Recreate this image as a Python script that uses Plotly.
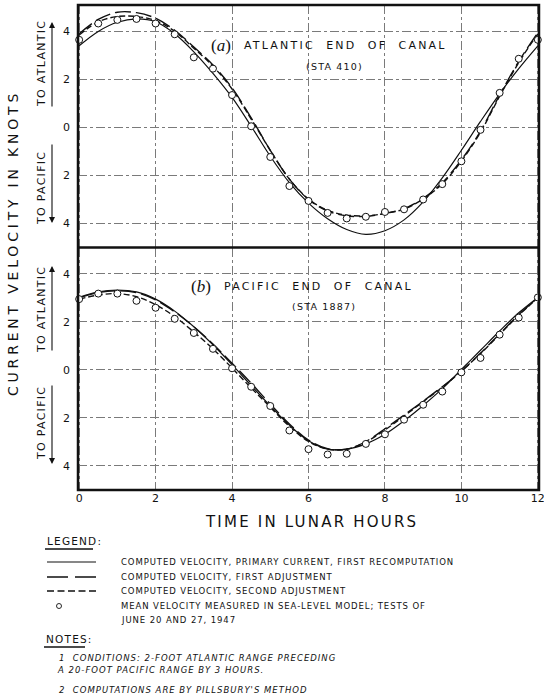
import plotly.graph_objects as go

# ---------------- data ----------------
hours = [0, 0.5, 1, 1.5, 2, 2.5, 3, 3.5, 4, 4.5, 5, 5.5, 6, 6.5, 7, 7.5, 8, 8.5,
         9, 9.5, 10, 10.5, 11, 11.5, 12]

# (a) Atlantic end of canal (STA 410)
atl_measured = [3.65, 4.33, 4.48, 4.52, 4.33, 3.88, 2.92, 2.45, 1.35, 0.05, -1.23, -2.44,
                -3.06, -3.56, -3.79, -3.72, -3.52, -3.41, -3.00, -2.36, -1.41, -0.10,
                1.44, 2.86, 3.65]
atl_primary = [3.40, 4.00, 4.38, 4.52, 4.40, 3.90, 3.15, 2.25, 1.25, 0.05, -1.20, -2.30,
               -3.15, -3.80, -4.25, -4.45, -4.30, -3.85, -3.10, -2.10, -0.95, 0.25,
               1.40, 2.45, 3.40]
atl_first_adj = [3.90, 4.50, 4.80, 4.78, 4.55, 4.05, 3.35, 2.60, 1.65, 0.40, -0.95, -2.15,
                 -3.00, -3.48, -3.68, -3.70, -3.58, -3.38, -2.95, -2.30, -1.35, -0.15,
                 1.35, 2.75, 3.95]
atl_second_adj = [3.85, 4.40, 4.62, 4.62, 4.45, 4.00, 3.30, 2.55, 1.60, 0.35, -0.95, -2.15,
                  -2.98, -3.45, -3.65, -3.68, -3.58, -3.40, -2.98, -2.35, -1.40, -0.20,
                  1.30, 2.70, 3.90]

# (b) Pacific end of canal (STA 1887)
pac_measured = [2.95, 3.18, 3.18, 2.88, 2.59, 2.13, 1.54, 0.88, 0.07, -0.70, -1.50, -2.52,
                -3.30, -3.52, -3.49, -3.08, -2.68, -2.07, -1.45, -0.90, -0.10, 0.50,
                1.47, 2.18, 3.02]
pac_primary = [3.02, 3.25, 3.33, 3.25, 2.95, 2.45, 1.80, 1.05, 0.22, -0.65, -1.50, -2.30,
               -2.95, -3.30, -3.30, -3.08, -2.68, -2.12, -1.48, -0.78, 0.02, 0.82,
               1.62, 2.38, 3.02]
pac_first_adj = [3.00, 3.22, 3.30, 3.22, 2.92, 2.42, 1.80, 1.08, 0.28, -0.55, -1.42, -2.25,
                 -2.92, -3.28, -3.30, -2.98, -2.45, -1.88, -1.30, -0.70, -0.05, 0.70,
                 1.50, 2.30, 3.00]
pac_second_adj = [2.95, 3.12, 3.18, 3.05, 2.72, 2.22, 1.58, 0.88, 0.08, -0.75, -1.55, -2.35,
                  -2.98, -3.30, -3.30, -3.00, -2.50, -1.92, -1.32, -0.72, -0.05, 0.68,
                  1.48, 2.28, 3.00]

x_tickvals = [0, 2, 4, 6, 8, 10, 12]
x_ticktext = ["0", "2", "4", "6", "8", "10", "12"]
y_tickvals = [4, 2, 0, -2, -4]
y_ticktext = ["4", "2", "0", "2", "4"]

legend_labels = [
    "COMPUTED VELOCITY, PRIMARY CURRENT, FIRST RECOMPUTATION",
    "COMPUTED VELOCITY, FIRST ADJUSTMENT",
    "COMPUTED VELOCITY, SECOND ADJUSTMENT",
    "MEAN VELOCITY MEASURED IN SEA-LEVEL MODEL; TESTS OF",
    "JUNE 20 AND 27, 1947",
]
notes = [
    "1  CONDITIONS: 2-FOOT ATLANTIC RANGE PRECEDING",
    "A 20-FOOT PACIFIC RANGE BY 3 HOURS.",
    "2  COMPUTATIONS ARE BY PILLSBURY'S METHOD",
]

# ---------------- geometry helpers ----------------
W, H = 544, 697
L, R, T, B = 78, 5, 5, 207
PW = W - L - R
PH = H - T - B


def px(x):
    return (x - L) / PW


def py(y):
    return (H - B - y) / PH


FONT = "DejaVu Sans"
INK = "#111111"
LONG = "16px,5px"
SHORT = "6px,3px"


def sp(text, ls):
    return f'<span style="letter-spacing:{ls}px">{text}</span>'


fig = go.Figure()

panels = [
    ("x2", "y2", atl_primary, atl_first_adj, atl_second_adj, atl_measured),
    ("x", "y", pac_primary, pac_first_adj, pac_second_adj, pac_measured),
]
for xa, ya, prim, fa, sa, meas in panels:
    fig.add_trace(go.Scatter(x=hours, y=prim, mode="lines", xaxis=xa, yaxis=ya,
                             line=dict(color=INK, width=1.2, shape="spline", smoothing=1.0),
                             showlegend=False))
    fig.add_trace(go.Scatter(x=hours, y=fa, mode="lines", xaxis=xa, yaxis=ya,
                             line=dict(color=INK, width=1.4, dash=LONG, shape="spline", smoothing=1.0),
                             showlegend=False))
    fig.add_trace(go.Scatter(x=hours, y=sa, mode="lines", xaxis=xa, yaxis=ya,
                             line=dict(color=INK, width=1.4, dash=SHORT, shape="spline", smoothing=1.0),
                             showlegend=False))
    fig.add_trace(go.Scatter(x=hours, y=meas, mode="markers", xaxis=xa, yaxis=ya,
                             marker=dict(symbol="circle", size=7, color="white",
                                         line=dict(color=INK, width=1)),
                             showlegend=False, cliponaxis=False))

grid = dict(showgrid=True, gridcolor="#7a7a7a", gridwidth=0.8, griddash="dashdot",
            zeroline=False, showline=False, automargin=False)

fig.update_layout(
    width=W, height=H,
    margin=dict(l=L, r=R, t=T, b=B, autoexpand=False),
    paper_bgcolor="white", plot_bgcolor="white",
    font=dict(family=FONT, color=INK),
    xaxis=dict(domain=[0, 1], range=[-0.03, 12.03], anchor="y",
               tickvals=x_tickvals, ticktext=x_ticktext, tickfont=dict(size=11),
               ticks="", ticklabeloverflow="allow", **grid),
    xaxis2=dict(domain=[0, 1], range=[-0.03, 12.03], anchor="y2", matches="x",
                tickvals=x_tickvals, showticklabels=False, ticks="", **grid),
    yaxis=dict(domain=[0, 0.5], range=[-5.0, 5.1], anchor="x",
               tickvals=y_tickvals, ticktext=y_ticktext, tickfont=dict(size=11),
               ticks="", ticklabelstandoff=7, **grid),
    yaxis2=dict(domain=[0.5, 1], range=[-5.0, 5.1], anchor="x2",
                tickvals=y_tickvals, ticktext=y_ticktext, tickfont=dict(size=11),
                ticks="", ticklabelstandoff=7, **grid),
)

shapes = []
# frame and panel divider
shapes.append(dict(type="rect", xref="paper", yref="paper", x0=0, x1=1, y0=0, y1=1,
                   line=dict(color=INK, width=2.5)))
shapes.append(dict(type="line", xref="paper", yref="paper", x0=0, x1=1, y0=0.5, y1=0.5,
                   line=dict(color=INK, width=2.5)))

# legend keys
shapes.append(dict(type="line", xref="paper", yref="paper", x0=px(47), x1=px(96),
                   y0=py(562), y1=py(562), line=dict(color=INK, width=1.2)))
shapes.append(dict(type="line", xref="paper", yref="paper", x0=px(47), x1=px(96),
                   y0=py(577), y1=py(577), line=dict(color=INK, width=1.4, dash="21px,7px")))
shapes.append(dict(type="line", xref="paper", yref="paper", x0=px(47), x1=px(96),
                   y0=py(591), y1=py(591), line=dict(color=INK, width=1.4, dash="7px,3.5px")))
shapes.append(dict(type="circle", xref="paper", yref="paper", x0=px(56.5), x1=px(61.5),
                   y0=py(608.5), y1=py(603.5), line=dict(color=INK, width=0.9)))
# underlines
shapes.append(dict(type="line", xref="paper", yref="paper", x0=px(45), x1=px(93),
                   y0=py(549), y1=py(549), line=dict(color=INK, width=1.5)))
shapes.append(dict(type="line", xref="paper", yref="paper", x0=px(44), x1=px(85),
                   y0=py(647), y1=py(647), line=dict(color=INK, width=1.5)))

annotations = []


def ann(text, x, y, size, xanchor="center", yanchor="middle", angle=0, family=FONT):
    annotations.append(dict(text=text, xref="paper", yref="paper", x=px(x), y=py(y),
                            xanchor=xanchor, yanchor=yanchor, showarrow=False,
                            textangle=angle, font=dict(size=size, family=family, color=INK)))


def arrow(x, y_tip, y_tail):
    annotations.append(dict(text="", xref="paper", yref="paper", x=px(x), y=py(y_tip),
                            ax=0, ay=y_tail - y_tip, showarrow=True, arrowhead=2,
                            arrowsize=1.1, arrowwidth=1.1, arrowcolor=INK))


# y-axis title and direction labels
ann(sp("CURRENT VELOCITY IN KNOTS", 3.8), 13, 243, 14, angle=-90)
for top, (atl_c, atl_tip, atl_tail, pac_c, pac_tip, pac_tail) in [
        (True, (64, 22, 108, 188, 223, 143)),
        (False, (310, 266, 352, 423, 464, 384))]:
    ann(sp("TO ATLANTIC", 1.3), 41, atl_c, 11, angle=-90)
    arrow(52, atl_tip, atl_tail)
    ann(sp("TO PACIFIC", 1.3), 41, pac_c, 11, angle=-90)
    arrow(52, pac_tip, pac_tail)

# panel titles
ann("(<i>a</i>)", 209, 45, 17, xanchor="left", family="Liberation Serif")
ann(sp("ATLANTIC  END  OF  CANAL", 2.2), 242, 45, 11, xanchor="left")
ann(sp("(STA 410)", 1.2), 334, 66, 9.5)
ann("(<i>b</i>)", 189, 287, 17, xanchor="left", family="Liberation Serif")
ann(sp("PACIFIC  END  OF  CANAL", 2.2), 222, 287, 11, xanchor="left")
ann(sp("(STA 1887)", 1.2), 324, 306, 9.5)

# x-axis title
ann(sp("TIME IN LUNAR HOURS", 2.2), 311, 522, 15)

# legend block
ann(sp("LEGEND:", 1.2), 45, 541, 10.5, xanchor="left")
for label, yy in zip(legend_labels, [562, 577, 591, 606, 620]):
    ann(sp(label, 0.9), 119, yy, 8.5, xanchor="left")

# notes block
ann(sp("NOTES:", 1.2), 44, 639, 10.5, xanchor="left")
for note, xx, yy in zip(notes, [57, 55, 57], [658, 670, 690]):
    ann("<i>" + sp(note, 1.0) + "</i>", xx, yy, 8.5, xanchor="left")

fig.update_layout(shapes=shapes, annotations=annotations)

fig.write_html("out.html",
               config={"displayModeBar": False},
               post_script="document.body.style.margin='0';"
                           "document.body.style.overflow='hidden';")
